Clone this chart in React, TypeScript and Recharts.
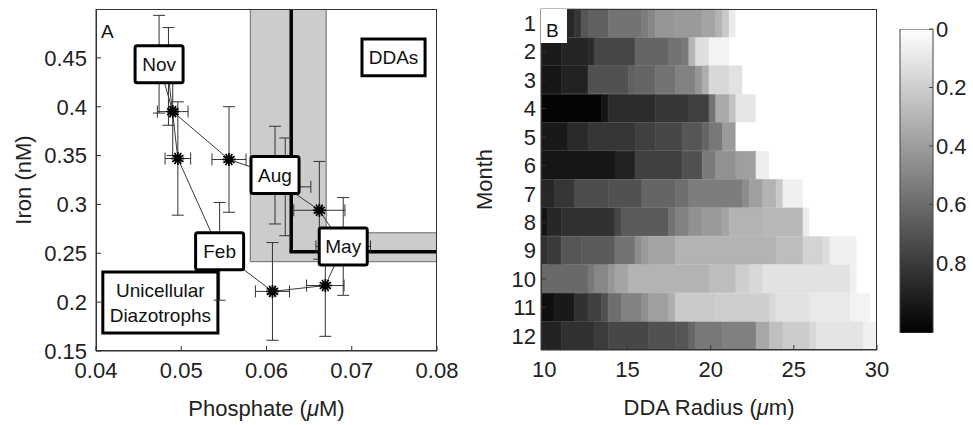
import React from 'react';
import {
  ScatterChart, Scatter, XAxis, YAxis, ErrorBar, ReferenceArea, ReferenceLine,
  BarChart, Bar, Cell,
} from 'recharts';

const FONT = "'Liberation Sans', Arial, Helvetica, sans-serif";
const INK = '#222';

// ---- Panel A: monthly means with standard errors ----
const months = ['Jan', 'Feb', 'Mar', 'Apr', 'May', 'Jun', 'Jul', 'Aug', 'Sep', 'Oct', 'Nov', 'Dec'];
const phosphate = [0.0496, 0.0545, 0.0607, 0.0669, 0.069, 0.0662, 0.0622, 0.061, 0.0556, 0.049, 0.0474, 0.0485];
const iron = [0.347, 0.252, 0.211, 0.217, 0.257, 0.294, 0.318, 0.33, 0.346, 0.395, 0.4435, 0.431];
const phosphateErr = [0.0015, 0.002, 0.002, 0.0022, 0.0032, 0.003, 0.003, 0.002, 0.002, 0.0018, 0.0015, 0.0015];
const ironErr = [0.058, 0.05, 0.05, 0.052, 0.05, 0.05, 0.05, 0.05, 0.054, 0.045, 0.05, 0.05];
const labelledMonths = ['Feb', 'May', 'Aug', 'Nov'];

const xTicksA = [0.04, 0.05, 0.06, 0.07, 0.08];
const yTicksA = [0.15, 0.2, 0.25, 0.3, 0.35, 0.4, 0.45];

// critical thresholds and their uncertainty
const pStar = 0.0629;
const pBand = [0.0581, 0.067];
const feStar = 0.2516;
const feBand = [0.2414, 0.271];

// ---- Panel B: DDA size distribution by month (runs of [bins, value]) ----
const RADIUS_START = 9.8;
const BIN = 0.404;
const month1 = [[4, 0.9], [1, 0.88], [1, 0.82], [1, 0.69], [3, 0.65], [5, 0.57], [1, 0.53], [1, 0.49], [3, 0.43], [4, 0.41], [2, 0.37], [1, 0.31], [1, 0.22], [1, 0.08], [21, 0]];
const month2 = [[3, 0.93], [4, 0.89], [1, 0.86], [6, 0.75], [5, 0.63], [2, 0.57], [1, 0.55], [1, 0.3], [2, 0.13], [3, 0.05], [22, 0]];
const month3 = [[3, 0.95], [4, 0.9], [6, 0.71], [1, 0.65], [3, 0.63], [3, 0.57], [3, 0.51], [1, 0.43], [1, 0.33], [3, 0.16], [2, 0.12], [20, 0]];
const month4 = [[9, 1.02], [1, 0.96], [7, 0.86], [5, 0.82], [3, 0.78], [1, 0.57], [2, 0.35], [1, 0.25], [3, 0.1], [18, 0]];
const month5 = [[4, 0.94], [3, 0.87], [7, 0.82], [3, 0.78], [4, 0.75], [3, 0.69], [1, 0.63], [2, 0.55], [2, 0.41], [21, 0]];
const month6 = [[11, 0.95], [3, 0.9], [7, 0.78], [3, 0.71], [2, 0.54], [3, 0.45], [3, 0.39], [2, 0.07], [16, 0]];
const month7 = [[2, 0.88], [3, 0.82], [5, 0.73], [5, 0.71], [5, 0.63], [2, 0.59], [8, 0.53], [1, 0.47], [2, 0.39], [2, 0.31], [1, 0.22], [3, 0.06], [11, 0]];
const month8 = [[1, 0.96], [2, 0.88], [8, 0.84], [1, 0.75], [7, 0.67], [1, 0.57], [2, 0.51], [2, 0.45], [3, 0.41], [1, 0.37], [5, 0.31], [6, 0.29], [1, 0.08], [10, 0]];
const month9 = [[1, 0.84], [2, 0.8], [3, 0.69], [5, 0.67], [3, 0.57], [1, 0.47], [1, 0.41], [4, 0.37], [15, 0.31], [4, 0.27], [3, 0.18], [1, 0.14], [4, 0.06], [3, 0]];
const month10 = [[7, 0.61], [1, 0.55], [2, 0.49], [1, 0.43], [2, 0.37], [12, 0.31], [4, 0.27], [2, 0.2], [2, 0.16], [13, 0.12], [1, 0.06], [3, 0]];
const month11 = [[2, 0.98], [3, 0.94], [2, 0.84], [2, 0.78], [1, 0.71], [2, 0.59], [3, 0.51], [1, 0.45], [3, 0.39], [1, 0.33], [6, 0.22], [8, 0.2], [1, 0.16], [5, 0.12], [6, 0.09], [3, 0.05], [1, 0]];
const month12 = [[3, 0.9], [5, 0.84], [2, 0.8], [6, 0.75], [4, 0.71], [2, 0.69], [1, 0.62], [4, 0.55], [5, 0.52], [2, 0.36], [2, 0.26], [4, 0.21], [1, 0.16], [7, 0.11], [2, 0.06]];
const monthRuns = [month1, month2, month3, month4, month5, month6, month7, month8, month9, month10, month11, month12];
const xTicksB = [10, 15, 20, 25, 30];

// colour bar
const CMAX = 1.04;
const cbarTicks = [0, 0.2, 0.4, 0.6, 0.8];

const shade = (v: number) => {
  const g = Math.round(255 * (1 - Math.min(v, CMAX) / CMAX));
  return `rgb(${g},${g},${g})`;
};

const monthly = months.map((m, i) => ({
  month: m, x: phosphate[i], y: iron[i], ex: phosphateErr[i], ey: ironErr[i],
}));
const loop = [...monthly, monthly[0]];
const stars = monthly.filter((d) => !labelledMonths.includes(d.month));
const boxed = monthly.filter((d) => labelledMonths.includes(d.month));

const maxRuns = Math.max(...monthRuns.map((r) => r.length));
const segKeys = Array.from({ length: maxRuns }, (_, i) => `s${i}`);
const heatRows = monthRuns.map((runs, r) => {
  const row: any = { month: String(r + 1), base: RADIUS_START };
  runs.forEach(([n], i) => { row[`s${i}`] = n * BIN; });
  return row;
});

const tickStyle = { fontSize: 22, fill: INK, fontFamily: FONT };

const Star = (p: any) => {
  const { cx, cy } = p;
  const r = 6.5;
  return (
    <g>
      {[0, 30, 60, 90, 120, 150].map((a) => {
        const dx = Math.cos((a * Math.PI) / 180) * r;
        const dy = Math.sin((a * Math.PI) / 180) * r;
        return <line key={a} x1={cx - dx} y1={cy - dy} x2={cx + dx} y2={cy + dy} stroke="#000" strokeWidth={1.8} />;
      })}
      <circle cx={cx} cy={cy} r={3.8} fill="#000" />
    </g>
  );
};

const MonthBox = (p: any) => {
  const { cx, cy } = p;
  const name = p.payload?.month ?? p.month;
  const w = 48;
  const h = 37;
  return (
    <g>
      <rect x={cx - w / 2} y={cy - h / 2} width={w} height={h} rx={2} fill="#fff" stroke="#000" strokeWidth={3} />
      <text x={cx} y={cy + 7} textAnchor="middle" fontSize={19} fontFamily={FONT} fill="#111">{name}</text>
    </g>
  );
};

const XTitle = ({ viewBox, pre, post }: any) => {
  if (!viewBox) return null;
  return (
    <text x={viewBox.x + viewBox.width / 2} y={viewBox.y + 65} textAnchor="middle" fontSize={22} fontFamily={FONT} fill={INK}>
      {pre}<tspan fontStyle="italic">μ</tspan>{post}
    </text>
  );
};

const YTitle = ({ viewBox, text, left }: any) => {
  if (!viewBox) return null;
  const cx = viewBox.x + left;
  const cy = viewBox.y + viewBox.height / 2;
  return (
    <text x={cx} y={cy} transform={`rotate(-90, ${cx}, ${cy})`} textAnchor="middle" dominantBaseline="central" fontSize={22} fontFamily={FONT} fill={INK}>
      {text}
    </text>
  );
};

const TwoLine = ({ viewBox }: any) => {
  if (!viewBox) return null;
  const cx = viewBox.x + viewBox.width / 2;
  const cy = viewBox.y + viewBox.height / 2;
  return (
    <text x={cx} y={cy} textAnchor="middle" fontSize={19} fontFamily={FONT} fill="#111">
      <tspan x={cx} dy="-0.3em">Unicellular</tspan>
      <tspan x={cx} dy="1.32em">Diazotrophs</tspan>
    </text>
  );
};

const bandLine = { stroke: '#6a6a6a', strokeWidth: 1 };
const thick = { stroke: '#000', strokeWidth: 3.5 };

const PanelA = () => (
  <ScatterChart width={475} height={425} margin={{ top: 9, right: 38, bottom: 0, left: 0 }}>
    <XAxis type="number" dataKey="x" domain={[0.04, 0.08]} ticks={xTicksA} allowDataOverflow height={74}
      tickSize={-5} tickMargin={16} tick={tickStyle} stroke="#333" interval={0}
      label={<XTitle pre="Phosphate (" post="M)" />} />
    <YAxis type="number" dataKey="y" domain={[0.15, 0.5]} ticks={yTicksA} allowDataOverflow width={96}
      tickSize={-5} tickMargin={14} tick={tickStyle} stroke="#333" interval={0}
      label={<YTitle text="Iron (nM)" left={23} />} />
    <ReferenceArea x1={pBand[0]} x2={pBand[1]} y1={feBand[0]} y2={0.5} fill="#cccccc" fillOpacity={1} stroke="none" />
    <ReferenceArea x1={pBand[0]} x2={0.08} y1={feBand[0]} y2={feBand[1]} fill="#cccccc" fillOpacity={1} stroke="none" />
    <ReferenceLine segment={[{ x: pBand[0], y: feBand[0] }, { x: pBand[0], y: 0.5 }]} {...bandLine} />
    <ReferenceLine segment={[{ x: pBand[0], y: feBand[0] }, { x: 0.08, y: feBand[0] }]} {...bandLine} />
    <ReferenceLine segment={[{ x: pBand[1], y: feBand[1] }, { x: pBand[1], y: 0.5 }]} {...bandLine} />
    <ReferenceLine segment={[{ x: pBand[1], y: feBand[1] }, { x: 0.08, y: feBand[1] }]} {...bandLine} />
    <ReferenceLine segment={[{ x: pStar, y: 0.5 }, { x: pStar, y: feStar }]} {...thick} />
    <ReferenceLine segment={[{ x: pStar - 0.0002, y: feStar }, { x: 0.08, y: feStar }]} {...thick} />
    <ReferenceArea x1={0.0712} x2={0.0786} y1={0.4316} y2={0.4694} fill="#fff" fillOpacity={1} stroke="#000" strokeWidth={3}
      label={{ value: 'DDAs', position: 'center', fontSize: 19, fill: '#111', fontFamily: FONT }} />
    <ReferenceArea x1={0.0408} x2={0.0543} y1={0.1684} y2={0.2309} fill="#fff" fillOpacity={1} stroke="#000" strokeWidth={3}
      label={<TwoLine />} />
    <Scatter data={loop} line={{ stroke: '#3a3a3a', strokeWidth: 1 }} shape={() => <g />} isAnimationActive={false} />
    <Scatter data={monthly} shape={() => <g />} isAnimationActive={false}>
      <ErrorBar dataKey="ex" direction="x" width={6} stroke="#333" strokeWidth={1} />
      <ErrorBar dataKey="ey" direction="y" width={6} stroke="#333" strokeWidth={1} />
    </Scatter>
    <Scatter data={stars} shape={Star} isAnimationActive={false} />
    <Scatter data={boxed} shape={MonthBox} isAnimationActive={false} />
  </ScatterChart>
);

const PanelB = () => (
  <BarChart layout="vertical" width={450} height={425} data={heatRows}
    margin={{ top: 9, right: 23, bottom: 0, left: 0 }} barCategoryGap={0} barGap={0}>
    <XAxis type="number" domain={[RADIUS_START, 30]} ticks={xTicksB} allowDataOverflow height={75}
      tickSize={-5} tickMargin={16} tick={tickStyle} stroke="#333" interval={0}
      label={<XTitle pre="DDA Radius (" post="m)" />} />
    <YAxis type="category" dataKey="month" width={91} tickSize={-5} tickMargin={10} tick={tickStyle} stroke="#333"
      interval={0} label={<YTitle text="Month" left={34} />} />
    <Bar dataKey="base" stackId="h" fill="transparent" isAnimationActive={false} />
    {segKeys.map((k, i) => (
      <Bar key={k} dataKey={k} stackId="h" isAnimationActive={false}>
        {monthRuns.map((runs, r) => {
          const run = runs[i];
          const c = run ? shade(run[1]) : 'none';
          return <Cell key={r} fill={c} stroke={c} strokeWidth={run ? 0.6 : 0} />;
        })}
      </Bar>
    ))}
  </BarChart>
);

const ColorBar = () => (
  <BarChart width={93} height={425} data={[{ k: 'c', v: CMAX }]}
    margin={{ top: 29, right: 0, bottom: 92, left: 20 }} barCategoryGap={0}>
    <defs>
      <linearGradient id="cbarGrad" x1="0" y1="0" x2="0" y2="1">
        <stop offset="0" stopColor="#ffffff" />
        <stop offset="1" stopColor="#000000" />
      </linearGradient>
    </defs>
    <XAxis dataKey="k" hide />
    <YAxis orientation="right" type="number" domain={[0, CMAX]} reversed allowDataOverflow ticks={cbarTicks}
      width={40} tickSize={-4} tickMargin={7} axisLine={false} tick={tickStyle} stroke="#444" interval={0} />
    <Bar dataKey="v" fill="url(#cbarGrad)" stroke="#444" strokeWidth={1} isAnimationActive={false} />
  </BarChart>
);

export default function App() {
  return (
    <div style={{ position: 'absolute', left: 0, top: 0, width: 973, height: 425, background: '#fff', fontFamily: FONT, overflow: 'hidden' }}>
      <div style={{ position: 'absolute', left: 0, top: 0 }}><PanelA /></div>
      <div style={{ position: 'absolute', left: 450, top: 0 }}><PanelB /></div>
      <div style={{ position: 'absolute', left: 880, top: 0 }}><ColorBar /></div>
      <div style={{ position: 'absolute', left: 96, top: 9, width: 341, height: 342, border: '1px solid #333', boxSizing: 'border-box', pointerEvents: 'none' }} />
      <div style={{ position: 'absolute', left: 541, top: 9, width: 336, height: 341, border: '1px solid #333', boxSizing: 'border-box', pointerEvents: 'none' }} />
      <div style={{ position: 'absolute', left: 101, top: 22, fontSize: 19, lineHeight: '19px', color: '#111' }}>A</div>
      <div style={{ position: 'absolute', left: 541, top: 9, width: 26, height: 34, background: '#fff', fontSize: 19, lineHeight: '19px', color: '#111', boxSizing: 'border-box', paddingLeft: 5, paddingTop: 12 }}>B</div>
    </div>
  );
}
